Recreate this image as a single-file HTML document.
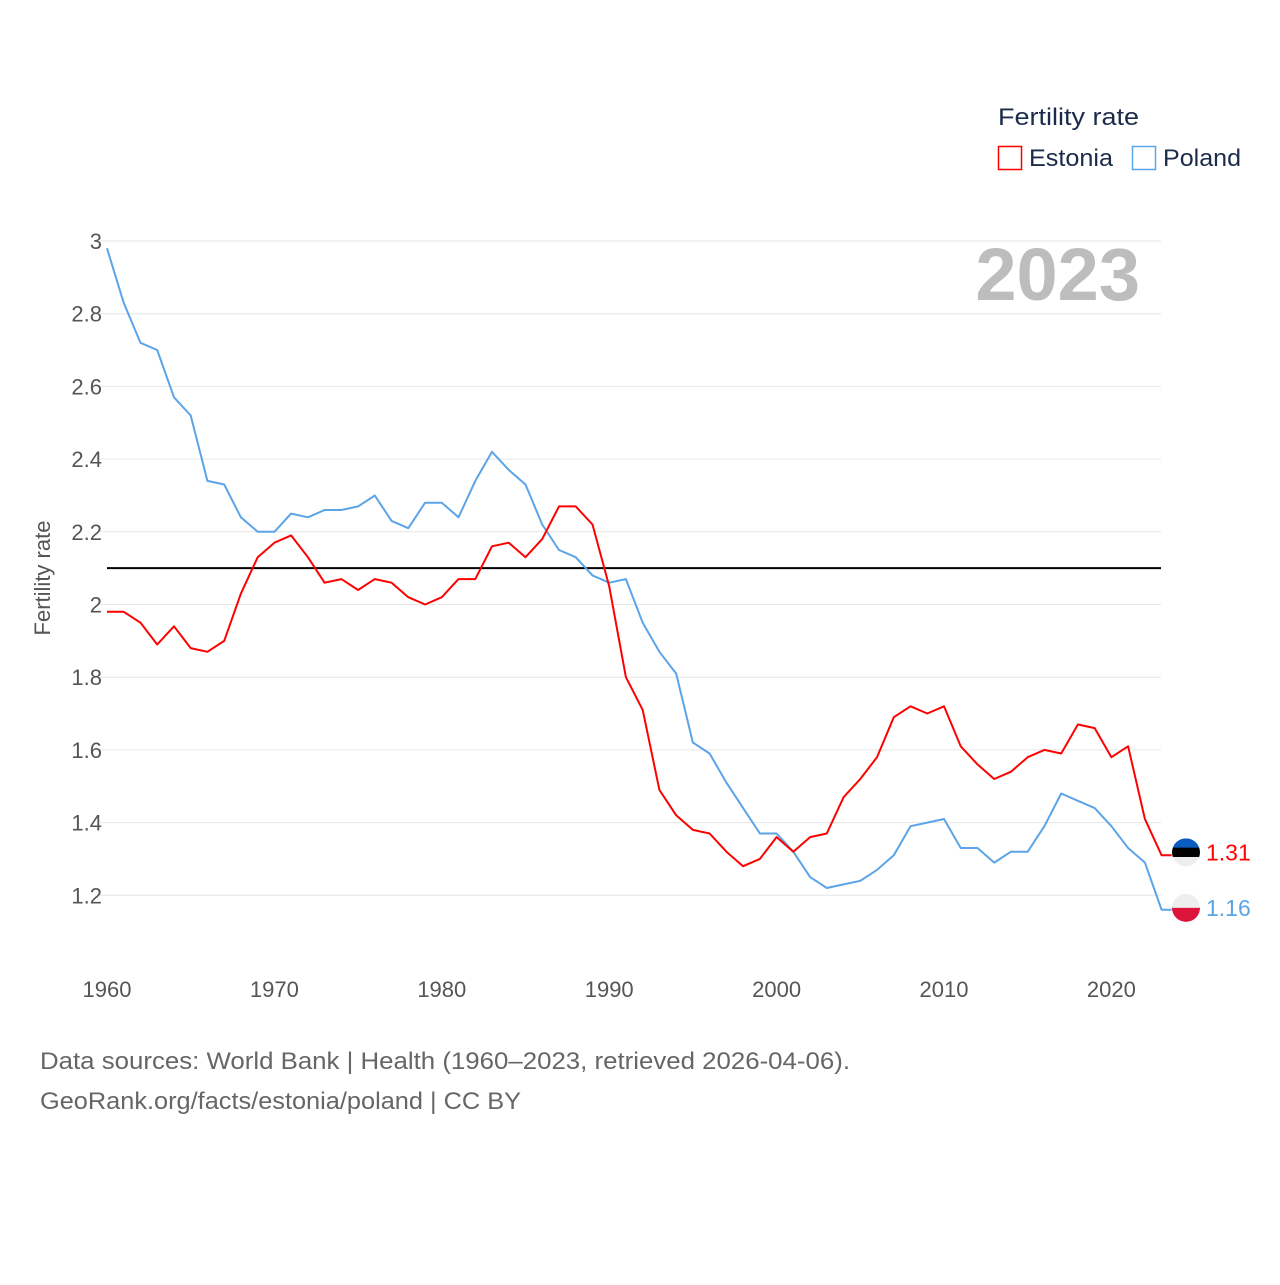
<!DOCTYPE html>
<html><head><meta charset="utf-8"><style>
body{margin:0;background:#fff;font-family:"Liberation Sans",sans-serif}
</style></head><body>
<svg width="1280" height="1280" viewBox="0 0 1280 1280" xmlns="http://www.w3.org/2000/svg" font-family="Liberation Sans, sans-serif">
<g id="grid"></g>
<g id="yticks"></g>
<g id="xticks"></g>
<text transform="translate(50,578) rotate(-90)" text-anchor="middle" font-size="22" fill="#555">Fertility rate</text>
<text x="1140" y="300" text-anchor="end" font-size="74" font-weight="bold" fill="#bdbdbd">2023</text>
<g id="series"></g>
<g>
<text x="998" y="125" font-size="24" fill="#1b2b4b" textLength="141" lengthAdjust="spacingAndGlyphs">Fertility rate</text>
<rect x="998.5" y="146.5" width="23" height="23" fill="none" stroke="#f00" stroke-width="1.5"/>
<text x="1029" y="166" font-size="24" fill="#1b2b4b" textLength="84" lengthAdjust="spacingAndGlyphs">Estonia</text>
<rect x="1132.5" y="146.5" width="23" height="23" fill="none" stroke="#5ba4e8" stroke-width="1.5"/>
<text x="1163" y="166" font-size="24" fill="#1b2b4b" textLength="78" lengthAdjust="spacingAndGlyphs">Poland</text>
</g>
<text x="40" y="1069" font-size="24" fill="#666" textLength="810" lengthAdjust="spacingAndGlyphs">Data sources: World Bank | Health (1960–2023, retrieved 2026-04-06).</text>
<text x="40" y="1109" font-size="24" fill="#666" textLength="481" lengthAdjust="spacingAndGlyphs">GeoRank.org/facts/estonia/poland | CC BY</text>
</svg>
<script>
const years=[];for(let y=1960;y<=2023;y++)years.push(y);
const estonia=[1.98,1.98,1.95,1.89,1.94,1.88,1.87,1.90,2.03,2.13,2.17,2.19,2.13,2.06,2.07,2.04,2.07,2.06,2.02,2.00,2.02,2.07,2.07,2.16,2.17,2.13,2.18,2.27,2.27,2.22,2.05,1.80,1.71,1.49,1.42,1.38,1.37,1.32,1.28,1.30,1.36,1.32,1.36,1.37,1.47,1.52,1.58,1.69,1.72,1.70,1.72,1.61,1.56,1.52,1.54,1.58,1.60,1.59,1.67,1.66,1.58,1.61,1.41,1.31];
const poland=[2.98,2.83,2.72,2.70,2.57,2.52,2.34,2.33,2.24,2.20,2.20,2.25,2.24,2.26,2.26,2.27,2.30,2.23,2.21,2.28,2.28,2.24,2.34,2.42,2.37,2.33,2.22,2.15,2.13,2.08,2.06,2.07,1.95,1.87,1.81,1.62,1.59,1.51,1.44,1.37,1.37,1.32,1.25,1.22,1.23,1.24,1.27,1.31,1.39,1.40,1.41,1.33,1.33,1.29,1.32,1.32,1.39,1.48,1.46,1.44,1.39,1.33,1.29,1.16];
const yTicks=[1.2,1.4,1.6,1.8,2,2.2,2.4,2.6,2.8,3];
const xTicks=[1960,1970,1980,1990,2000,2010,2020];
const refValue=[2.1];
const X=y=>107+(y-1960)*16.74;
const Y=v=>241+(3-v)*363.5;
const NS="http://www.w3.org/2000/svg";
function mk(t,a,p){const e=document.createElementNS(NS,t);for(const k in a)e.setAttribute(k,a[k]);p.appendChild(e);return e;}
const grid=document.getElementById('grid'),yt=document.getElementById('yticks'),xt=document.getElementById('xticks'),ser=document.getElementById('series');
yTicks.forEach(v=>{
 const l=mk('line',{x1:100,x2:1161,y1:Y(v),y2:Y(v),stroke:'#e6e6e6','stroke-width':1},grid);
 
 
 const t=mk('text',{x:102,y:Y(v)+8,'text-anchor':'end','font-size':22,fill:'#555'},yt);
 t.textContent=String(v);
 
 
});
xTicks.forEach(v=>{
 const t=mk('text',{x:X(v),y:997,'text-anchor':'middle','font-size':22,fill:'#555'},xt);
 t.textContent=String(v);
 
 
});
const ref=mk('line',{x1:107,x2:1161,y1:Y(refValue[0]),y2:Y(refValue[0]),stroke:'#000','stroke-width':2},ser);


function line(vals,color,name){
 const d=vals.map((v,i)=>(i?'L':'M')+X(years[i]).toFixed(1)+','+Y(v).toFixed(1)).join('')+'H'+(X(2023)+10);
 const p=mk('path',{d:d,fill:'none',stroke:color,'stroke-width':2,'stroke-linejoin':'round'},ser);
 
 
}
line(poland,'#5ba4e8','poland');
line(estonia,'#f00','estonia');
function flag(v,cols,name,color,dy){
 const cy=Y(v)+dy,cx=1186,r=14;
 const g=mk('g',{},ser);
 
 
 const cp=mk('clipPath',{id:'c'+name},g);mk('circle',{cx:cx,cy:cy,r:r},cp);
 const h=2*r/cols.length;
 cols.forEach((c,i)=>mk('rect',{x:cx-r,y:cy-r+i*h,width:2*r,height:h+0.5,fill:c,'clip-path':'url(#c'+name+')'},g));
 const t=mk('text',{x:1206,y:cy+8,'font-size':23,fill:color},ser);
 t.textContent=v.toFixed(2);
 
 
}
flag(estonia[estonia.length-1],['#0a5bc2','#000','#eee'],'estonia','#f00',-3);
flag(poland[poland.length-1],['#eee','#dc143c'],'poland','#5ba4e8',-2);
</script>
</body></html>
